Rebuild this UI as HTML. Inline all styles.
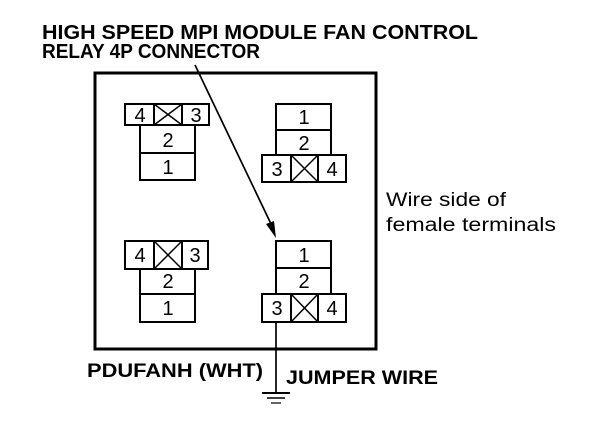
<!DOCTYPE html>
<html><head><style>html,body{margin:0;padding:0;background:#fff;}</style></head>
<body>
<svg width="608" height="434" viewBox="0 0 608 434" xmlns="http://www.w3.org/2000/svg" font-family="Liberation Sans, sans-serif">
<rect width="608" height="434" fill="#fff"/>
<g font-weight="bold" font-size="20" fill="#000">
<text x="42" y="39" textLength="436" lengthAdjust="spacingAndGlyphs">HIGH SPEED MPI MODULE FAN CONTROL</text>
<text x="42" y="58" textLength="218" lengthAdjust="spacingAndGlyphs">RELAY 4P CONNECTOR</text>
<text x="87" y="377" textLength="176" lengthAdjust="spacingAndGlyphs" font-size="19">PDUFANH (WHT)</text>
<text x="286" y="384" textLength="152" lengthAdjust="spacingAndGlyphs" font-size="19">JUMPER WIRE</text>
</g>
<g font-size="19" fill="#000">
<text x="386" y="206" textLength="120" lengthAdjust="spacingAndGlyphs">Wire side of</text>
<text x="386" y="231" textLength="170" lengthAdjust="spacingAndGlyphs">female terminals</text>
</g>
<rect x="95" y="73" width="281" height="276" fill="none" stroke="#000" stroke-width="3"/>
<g fill="none" stroke="#000" stroke-width="2">
<rect x="125" y="104" width="84" height="21"/><line x1="154" y1="104" x2="154" y2="125"/><line x1="182" y1="104" x2="182" y2="125"/>
<line x1="154" y1="104" x2="182" y2="125" stroke-width="1.5"/><line x1="182" y1="104" x2="154" y2="125" stroke-width="1.5"/>
<rect x="140" y="125" width="55" height="28"/><rect x="140" y="153" width="55" height="27"/>
<rect x="276" y="104" width="55" height="26"/><rect x="276" y="130" width="55" height="25"/>
<rect x="262" y="155" width="84" height="27"/><line x1="291" y1="155" x2="291" y2="182"/><line x1="318" y1="155" x2="318" y2="182"/>
<line x1="291" y1="155" x2="318" y2="182" stroke-width="1.5"/><line x1="318" y1="155" x2="291" y2="182" stroke-width="1.5"/>
<rect x="125" y="241" width="83" height="28"/><line x1="154" y1="241" x2="154" y2="269"/><line x1="182" y1="241" x2="182" y2="269"/>
<line x1="154" y1="241" x2="182" y2="269" stroke-width="1.5"/><line x1="182" y1="241" x2="154" y2="269" stroke-width="1.5"/>
<rect x="140" y="269" width="55" height="25"/><rect x="140" y="294" width="55" height="28"/>
<rect x="276" y="241" width="55" height="27"/><rect x="276" y="268" width="55" height="26"/>
<rect x="262" y="294" width="84" height="28"/><line x1="291" y1="294" x2="291" y2="322"/><line x1="318" y1="294" x2="318" y2="322"/>
<line x1="291" y1="294" x2="318" y2="322" stroke-width="1.5"/><line x1="318" y1="294" x2="291" y2="322" stroke-width="1.5"/>
<line x1="276" y1="322" x2="276" y2="393" stroke-width="1.7"/>
<line x1="262" y1="393" x2="290" y2="393"/>
<line x1="267" y1="398" x2="285" y2="398" stroke-width="1.5"/>
<line x1="271" y1="403" x2="281" y2="403" stroke-width="1.2"/>
<line x1="195" y1="65" x2="272" y2="226" stroke-width="1.7"/>
</g>
<polygon points="276,238 266,224 274,221" fill="#000"/>
<g font-size="20" fill="#000" text-anchor="middle">
<text x="140" y="122">4</text><text x="196" y="122">3</text>
<text x="168" y="147">2</text><text x="168" y="174">1</text>
<text x="304" y="124">1</text><text x="304" y="150">2</text>
<text x="277" y="176">3</text><text x="332" y="176">4</text>
<text x="140" y="262">4</text><text x="195" y="262">3</text>
<text x="168" y="288">2</text><text x="168" y="315">1</text>
<text x="304" y="262">1</text><text x="304" y="288">2</text>
<text x="277" y="315">3</text><text x="332" y="315">4</text>
</g>
</svg>
</body></html>
